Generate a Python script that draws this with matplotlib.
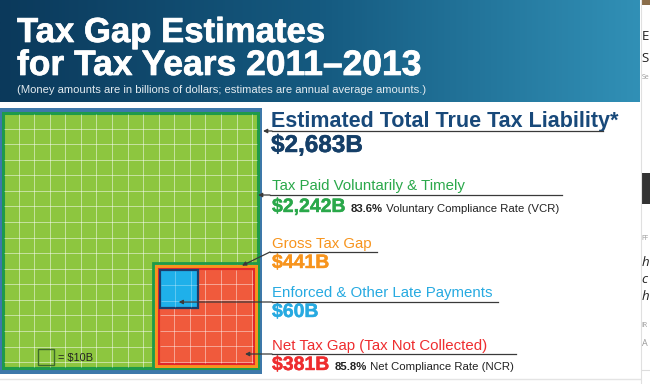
import numpy as np
import matplotlib.pyplot as plt
import matplotlib.patheffects as pe
from matplotlib.patches import Rectangle
from matplotlib.colors import LinearSegmentedColormap

plt.rcParams['font.family'] = ['Liberation Sans', 'DejaVu Sans']

# billions of dollars, annual averages for tax years 2011-2013
labels = ["Estimated Total True Tax Liability*", "Tax Paid Voluntarily & Timely",
          "Gross Tax Gap", "Enforced & Other Late Payments",
          "Net Tax Gap (Tax Not Collected)"]
amounts = [2683, 2242, 441, 60, 381]
rates = [None, "83.6%", None, None, "85.8%"]
rate_names = [None, "Voluntary Compliance Rate (VCR)", None, None, "Net Compliance Rate (NCR)"]
cell_value = 10  # one grid square = $10B

colors = ['#1b4f7e', '#2aa84a', '#f7941d', '#27aae1', '#ee2d2f']
label_y = [127, 190, 248, 297, 350]
amount_y = [152, 212, 268, 317, 370]
line_y = [131, 195, 252, 302, 354]
line_end = [603, 562, 377, 498, 516]

fig = plt.figure(figsize=(6.5, 3.84), dpi=100)
ax = fig.add_axes([0, 0, 1, 1])

heavy_white = [pe.withStroke(linewidth=0.5, foreground='white')]

# header band
grad = np.linspace(0, 1, 256).reshape(1, -1)
cmap = LinearSegmentedColormap.from_list('hdr', ['#0b395b', '#155a80', '#3190b6'])
ax.imshow(grad, cmap=cmap, extent=[0, 640, 102, 0], aspect='auto', zorder=0)
ax.text(17, 42, "Tax Gap Estimates", color='white', fontsize=25, fontweight='bold',
        va='baseline', path_effects=heavy_white)
ax.text(17, 75, "for Tax Years 2011\u20132013", color='white', fontsize=25.5, fontweight='bold',
        va='baseline', path_effects=heavy_white)
ax.text(17, 93, "(Money amounts are in billions of dollars; estimates are annual average amounts.)",
        color='#e3ebf0', fontsize=8.1, va='baseline')

# squares, area proportional to amount
x0, y0 = 3, 113
side = 255
k = side / np.sqrt(amounts[0])
cell = k * np.sqrt(cell_value)

ax.add_patch(Rectangle((-1, 108), 263, 266, fc='#3e78aa', ec='none', zorder=1))
ax.add_patch(Rectangle((x0, y0), side, side, fc='#8dc63f', ec='#1e9a4a', lw=2.2, zorder=2))
n = int(side / cell)
ax.vlines([x0 + i * cell for i in range(1, n + 1)], y0 + 1, y0 + side - 1, color='white', lw=0.7, alpha=0.5, zorder=3)
ax.hlines([y0 + i * cell for i in range(1, n + 1)], x0 + 1, x0 + side - 1, color='white', lw=0.7, alpha=0.5, zorder=3)

gs = k * np.sqrt(amounts[2])
gx, gy = x0 + side - gs, y0 + side - gs
ax.add_patch(Rectangle((gx - 2, gy - 2), gs + 2, gs + 2, fc='none', ec='#1e9a4a', lw=2, zorder=4))
ax.add_patch(Rectangle((gx, gy), gs, gs, fc='#f7941d', ec='none', zorder=5))
ax.add_patch(Rectangle((gx + 4, gy + 4), gs - 8, gs - 8, fc='#f05a3c', ec='#e3262b', lw=1.5, zorder=6))
m = int(gs / cell)
ax.vlines([gx + 4 + i * cell for i in range(1, m + 1)], gy + 5, gy + gs - 5, color='white', lw=0.7, alpha=0.45, zorder=7)
ax.hlines([gy + 4 + i * cell for i in range(1, m + 1)], gx + 5, gx + gs - 5, color='white', lw=0.7, alpha=0.45, zorder=7)

bs = k * np.sqrt(amounts[3])
bx, by = gx + 5, gy + 5
ax.add_patch(Rectangle((bx, by), bs, bs, fc='#1fb0ea', ec='#1c3d6b', lw=1.6, zorder=8))
ax.vlines([bx + cell, bx + 2 * cell], by + 1, by + bs - 1, color='white', lw=0.6, alpha=0.35, zorder=9)
ax.hlines([by + cell, by + 2 * cell], bx + 1, bx + bs - 1, color='white', lw=0.6, alpha=0.35, zorder=9)

# legend square
ax.add_patch(Rectangle((38, 349), cell, cell, fc='none', ec='#3f6a2c', lw=1, zorder=4))
ax.text(38 + cell + 4, 361, "= $10B", fontsize=7.9, color='#222222', va='baseline', zorder=4)

# callout lines
tips = [(x0 + side + 5, line_y[0]), (x0 + side, line_y[1]), (gx + gs - 16, gy + 1),
        (bx + bs / 2, line_y[3]), (gx + gs - 13, line_y[4])]
starts = [272, 270, 270, 272, 272]
for i in range(5):
    ax.plot([starts[i], line_end[i]], [line_y[i], line_y[i]], color='#3a3a3a', lw=0.9, zorder=10)
    ax.annotate('', xy=tips[i], xytext=(starts[i], line_y[i]),
                arrowprops=dict(arrowstyle='-|>', color='#3a3a3a', lw=0.9, mutation_scale=6,
                                shrinkA=0, shrinkB=0), zorder=10)

# labels and amounts
for i in range(5):
    if i == 0:
        ax.text(271, label_y[i], labels[i], color='#18497a', fontsize=15.5, fontweight='bold', va='baseline')
        t = ax.text(271, amount_y[i], f"${amounts[i]:,}B", color='#153f68', fontsize=17.5,
                    fontweight='bold', va='baseline',
                    path_effects=[pe.withStroke(linewidth=0.35, foreground='#153f68')])
    else:
        ax.text(272, label_y[i], labels[i], color=colors[i], fontsize=10.8, va='baseline')
        t = ax.text(272, amount_y[i], f"${amounts[i]:,}B", color=colors[i], fontsize=14,
                    fontweight='bold', va='baseline',
                    path_effects=[pe.withStroke(linewidth=0.3, foreground=colors[i])])
    if rates[i]:
        r = ax.annotate(rates[i], xy=(1, amount_y[i]), xycoords=(t, 'data'), xytext=(4, 0),
                        textcoords='offset points', va='baseline', fontsize=8.2,
                        fontweight='bold', color='#222222')
        ax.annotate(" " + rate_names[i], xy=(1, amount_y[i]), xycoords=(r, 'data'),
                    va='baseline', fontsize=8.2, color='#222222')

# bottom rule and page edge on the right
ax.plot([0, 640], [379, 379], color='#e4e4e4', lw=1)
ax.plot([640.5, 640.5], [0, 384], color='#e0e0e0', lw=0.8)
ax.add_patch(Rectangle((642, 0), 8, 5, fc='#8a6d4a', ec='none'))
ax.add_patch(Rectangle((642, 173), 8, 31, fc='#333333', ec='none'))
ax.plot([642, 650], [370, 370], color='#dddddd', lw=0.8)
side_bits = [("E", 40, 9.5, '#222222', 'normal'), ("S", 62, 9.5, '#222222', 'normal'),
             ("Se", 79, 5, '#999999', 'normal'), ("FF", 240, 5, '#999999', 'normal'),
             ("h", 266, 9.5, '#222222', 'italic'), ("c", 283, 9.5, '#222222', 'italic'),
             ("h", 300, 9.5, '#222222', 'italic'), ("IR", 327, 5, '#999999', 'normal'),
             ("A", 346, 6.5, '#999999', 'normal')]
for s, yy, fs, c, st in side_bits:
    ax.text(641.5, yy, s, fontsize=fs, color=c, style=st, va='baseline', family='Open Sans')

ax.set_xlim(0, 650)
ax.set_ylim(384, 0)
ax.axis('off')
fig.savefig('out.png', dpi=100, facecolor='white')
